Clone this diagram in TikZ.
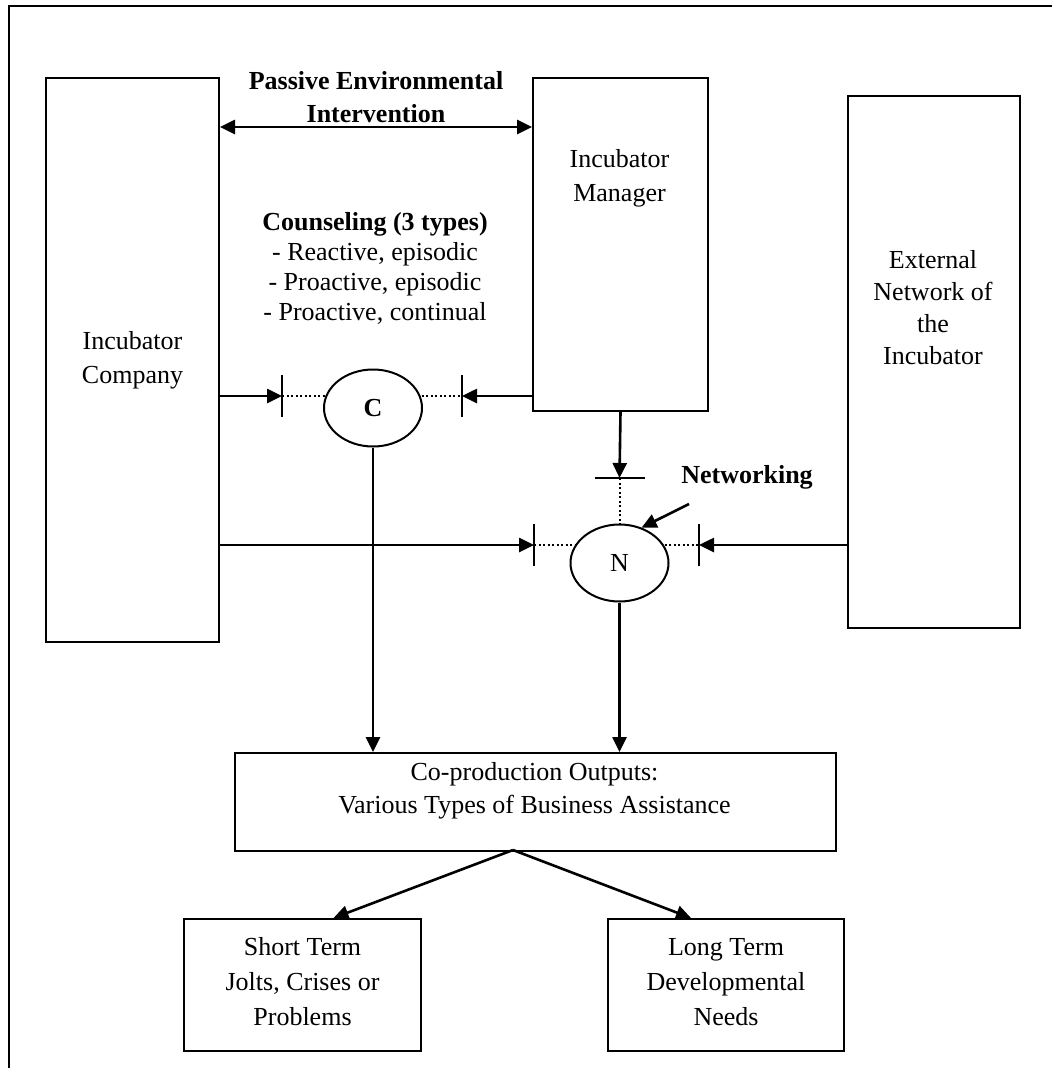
\documentclass[tikz,border=0pt]{standalone}
\usepackage{fontspec}
\setmainfont{Liberation Serif}
\usetikzlibrary{arrows.meta,shapes.geometric}
\begin{document}
\begin{tikzpicture}[x=1pt,y=-1pt,
  boxn/.style={draw,line width=2pt,inner sep=0pt,anchor=north west,align=center,font=\fontsize{26}{34}\selectfont},
  txt/.style={align=center,inner sep=0pt,font=\fontsize{26}{34}\selectfont},
  btxt/.style={align=center,inner sep=0pt,font=\fontsize{26}{33}\selectfont\bfseries},
  arr/.style={-{Triangle[length=15pt,width=14pt]},line width=2.6pt},
  darr/.style={{Triangle[length=15pt,width=14pt]}-{Triangle[length=15pt,width=14pt]},line width=2.6pt},
  dotl/.style={line width=2pt,dash pattern=on 2pt off 2.5pt},
  barl/.style={line width=2pt},
  ell/.style={draw,ellipse,line width=2pt,fill=white,minimum width=98pt,minimum height=77pt,inner sep=0pt,font=\fontsize{26}{30}\selectfont}
]
\useasboundingbox (0,0) rectangle (1052,1068);
\draw[line width=2pt] (9,1068) -- (9,6) -- (1052,6);

% main boxes
\node[boxn,minimum width=173pt,minimum height=564pt] (comp) at (45,77) {};
\node[txt] (comptxt) at (comp.center) {Incubator\\Company};
\node[boxn,minimum width=175pt,minimum height=333pt] (man) at (532,77) {};
\node[txt] (mantxt) at (619.5,178) {Incubator\\Manager};
\node[boxn,minimum width=172pt,minimum height=532pt] (ext) at (847,95) {};
\node[txt,font=\fontsize{26}{32}\selectfont] (exttxt) at (933,308) {External\\Network of\\the\\Incubator};

% labels
\node[btxt] (pei) at (376,97) {Passive Environmental\\Intervention};
\node[txt,font=\fontsize{26}{30}\selectfont] (coun) at (375,268) {\textbf{Counseling (3 types)}\\- Reactive, episodic\\- Proactive, episodic\\- Proactive, continual};

% double arrow
\coordinate (pe) at (376,127);
\draw[darr] (comp.east |- pe) -- (man.west |- pe);

% counseling ellipse C
\coordinate (cL) at (282,396);
\coordinate (cR) at (462,396);
\draw[dotl] (cL) -- (cR);
\node[ell] (C) at (373,408) {\textbf{C}};
\draw[arr] (comp.east |- cL) -- (cL);
\draw[arr] (man.west |- cR) -- (cR);
\draw[barl] ([yshift=21pt]cL) -- ([yshift=-21pt]cL);
\draw[barl] ([yshift=21pt]cR) -- ([yshift=-21pt]cR);

% networking ellipse N
\coordinate (nT) at (619.5,478);
\coordinate (nL) at (534,545);
\coordinate (nR) at (699,545);
\draw[dotl] (nL) -- (nR);
\draw[dotl] (nT) -- (619.5,540);
\node[ell] (N) at (619.5,563) {N};
\draw[arr] (man.south) -- (nT);
\draw[barl] ([xshift=-25pt]nT) -- ([xshift=25pt]nT);
\draw[arr] (comp.east |- nL) -- (nL);
\draw[arr] (ext.west |- nR) -- (nR);
\draw[barl] ([yshift=21pt]nL) -- ([yshift=-21pt]nL);
\draw[barl] ([yshift=21pt]nR) -- ([yshift=-21pt]nR);
\node[btxt] (netw) at (747,477) {Networking};
\coordinate (nw1) at (689,504);
\draw[arr] (nw1) -- (N.58);

% outputs
\node[boxn,minimum width=601pt,minimum height=98pt] (co) at (234,752) {};
\node[txt,font=\fontsize{26}{33}\selectfont] (cotxt) at (534.5,791) {Co-production Outputs:\\Various Types of Business Assistance};
\draw[arr] (C.south) -- (C.south |- co.north);
\draw[arr] (N.south) -- (N.south |- co.north);

\node[boxn,minimum width=237pt,minimum height=132pt] (st) at (183,918) {};
\node[txt,font=\fontsize{26}{35}\selectfont] (sttxt) at ([yshift=3pt]st.center) {Short Term\\Jolts, Crises or\\Problems};
\node[boxn,minimum width=236pt,minimum height=132pt] (lt) at (607,918) {};
\node[txt,font=\fontsize{26}{35}\selectfont] (lttxt) at ([yshift=3pt]lt.center) {Long Term\\Developmental\\Needs};

\coordinate (sp) at (513,850);
\draw[arr] (sp) -- ([xshift=31pt]st.north);
\draw[arr] (sp) -- ([xshift=-35pt]lt.north);
\end{tikzpicture}
\end{document}
